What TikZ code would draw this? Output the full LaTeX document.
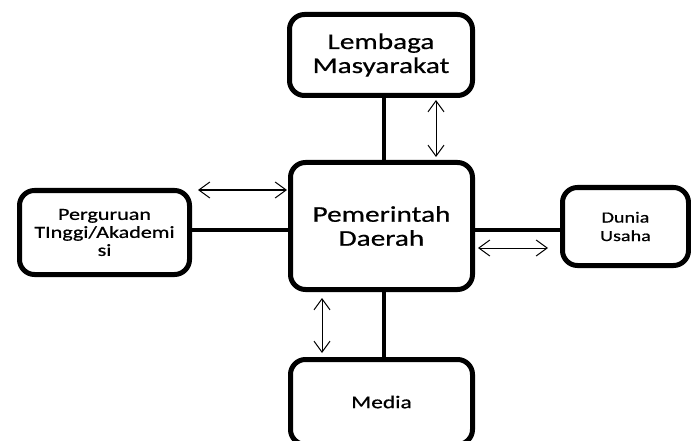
\documentclass[tikz,border=0pt]{standalone}
\usepackage{fontspec}
\newfontfamily\calibfont[FakeStretch=1.3,FakeBold=0.6]{Carlito}
\usetikzlibrary{arrows.meta}

\begin{document}
\begin{tikzpicture}[x=1pt, y=-1pt,
  box/.style={draw, fill=white, line width=5pt, rounded corners=15pt, inner sep=0pt, align=center, font=\calibfont},
  link/.style={line width=4.5pt},
  flow/.style={{Straight Barb[length=11pt,width=16pt]}-{Straight Barb[length=11pt,width=16pt]}, line width=1pt}
]
\clip (0,0) rectangle (691,441);
\fill[white] (0,0) rectangle (691,441);

% Actors
\node[box, minimum width=182pt, minimum height=127pt, font=\calibfont\fontsize{22.5}{24}\selectfont] (pemda) at (381.5,226) {Pemerintah\\Daerah};
\node[box, minimum width=183pt, minimum height=81pt, font=\calibfont\fontsize{22.5}{24}\selectfont] (lembaga) at (381,55) {Lembaga\\Masyarakat};
\node[box, minimum width=170pt, minimum height=84pt, font=\calibfont\fontsize{17}{18}\selectfont] (pt) at (104.5,232.5) {Perguruan\\TInggi/Akademi\\si};
\node[box, minimum width=126pt, minimum height=78pt, font=\calibfont\fontsize{15.5}{18.5}\selectfont] (du) at (625.5,226.5) {Dunia\\Usaha};
\node[box, minimum width=182pt, minimum height=85pt, font=\calibfont\fontsize{18}{20}\selectfont] (media) at (381.5,402) {Media};

% Thick links to Pemerintah Daerah
\draw[link] ([xshift=3pt]lembaga.south) -- ([xshift=2.5pt]pemda.north);
\draw[link] ([yshift=2.5pt]pt.east) -- ([yshift=-4pt]pemda.west);
\draw[link] ([yshift=-4pt]pemda.east) -- ([yshift=-3.5pt]du.west);
\draw[link] ([xshift=2.5pt]pemda.south) -- ([xshift=2.5pt]media.north);

% Two-way flows
\draw[flow] ([xshift=55pt,yshift=-2pt]lembaga.south) -- ([xshift=54.5pt,yshift=3pt]pemda.north);
\draw[flow] ([xshift=6pt,yshift=42.5pt]pt.east) -- ([xshift=-1pt,yshift=36pt]pemda.west);
\draw[flow] ([xshift=3pt,yshift=-22pt]pemda.east) -- ([xshift=-12pt,yshift=-21.5pt]du.west);
\draw[flow] ([xshift=-59.5pt,yshift=-6pt]pemda.south) -- ([xshift=-59.5pt,yshift=4pt]media.north);

\end{tikzpicture}
\end{document}
